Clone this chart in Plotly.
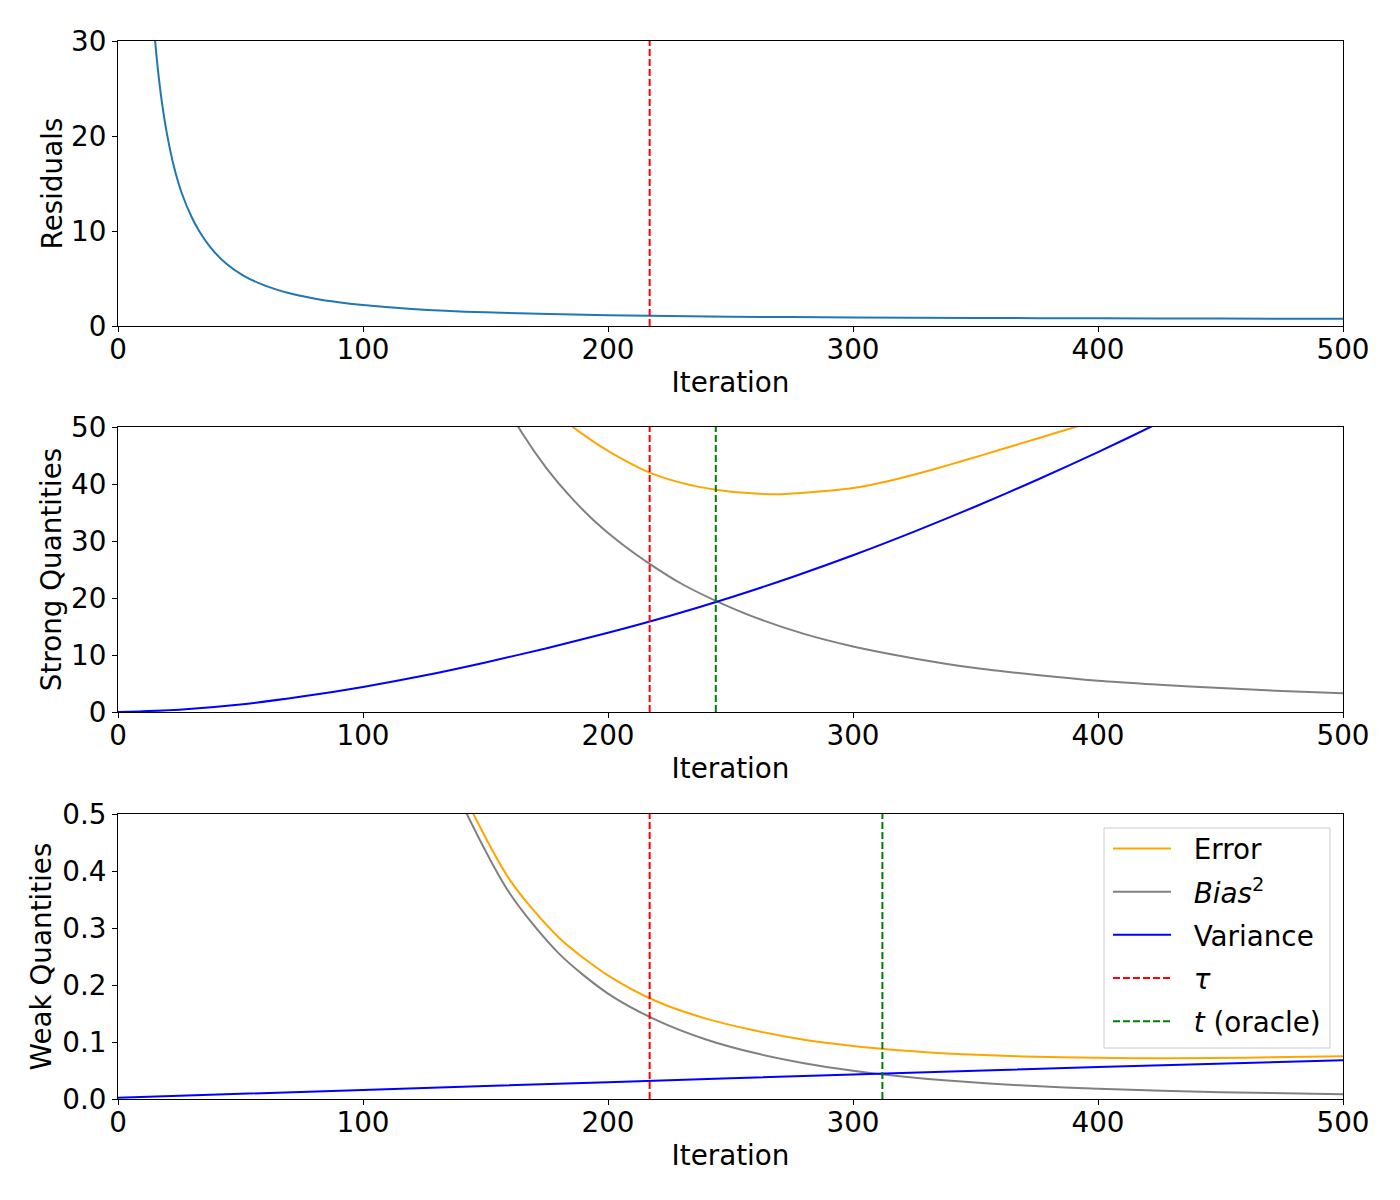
import plotly.graph_objects as go
from plotly.subplots import make_subplots

# ---------------- data ----------------
res_iter = [14, 16, 18, 20, 23, 26, 30, 33, 38, 44, 51, 60, 70, 80, 90, 100, 120, 150, 200, 250, 300, 350, 400, 450, 500]
res_val = [33.5, 27.7, 23.4, 20.2, 16.6, 14.0, 11.5, 10.05, 8.2, 6.6, 5.33, 4.25, 3.45, 2.9, 2.5, 2.21, 1.8, 1.44, 1.13, 0.98, 0.9, 0.85, 0.81, 0.78, 0.76]

strong_bias_iter = [155, 165, 175, 185, 195, 205, 217, 230, 244, 260, 280, 300, 325, 350, 375, 400, 425, 450, 475, 500]
strong_bias_val = [56.4, 48.9, 42.7, 37.6, 33.3, 29.7, 26.0, 22.5, 19.5, 16.6, 13.7, 11.5, 9.4, 7.7, 6.5, 5.5, 4.8, 4.2, 3.7, 3.3]

strong_var_iter = [0, 25, 50, 75, 100, 125, 150, 175, 200, 225, 250, 275, 300, 325, 350, 375, 400, 425, 450]
strong_var_val = [0.0, 0.4, 1.3, 2.7, 4.4, 6.4, 8.7, 11.2, 13.9, 16.85, 20.1, 23.65, 27.5, 31.65, 36.05, 40.7, 45.6, 50.75, 56.15]

strong_err_iter = [170, 175, 185, 197, 207, 217, 230, 244, 256, 269, 280, 290, 300, 310, 320, 333, 346, 360, 375, 391, 405]
strong_err_val = [55.2, 53.5, 50.2, 46.6, 44.1, 42.0, 40.2, 39.0, 38.45, 38.2, 38.45, 38.8, 39.3, 40.1, 41.1, 42.6, 44.2, 46.0, 47.95, 50.03, 51.85]

weak_bias_iter = [135, 140, 160, 180, 200, 220, 240, 260, 280, 300, 320, 340, 370, 400, 450, 500]
weak_bias_val = [0.57, 0.521, 0.360, 0.255, 0.185, 0.138, 0.1045, 0.0806, 0.0629, 0.0497, 0.0396, 0.0319, 0.0236, 0.0179, 0.0120, 0.0085]

weak_var_iter = [0, 100, 200, 300, 400, 500]
weak_var_val = [0.002, 0.016, 0.0295, 0.043, 0.056, 0.068]

weak_err_iter = [135, 140, 160, 180, 200, 220, 240, 260, 280, 300, 320, 340, 370, 400, 430, 460, 500]
weak_err_val = [0.60, 0.545, 0.384, 0.283, 0.217, 0.171, 0.141, 0.120, 0.104, 0.093, 0.085, 0.0795, 0.0745, 0.0722, 0.0715, 0.0725, 0.0752]

tau = 217
t_oracle_strong = 244
t_oracle_weak = 312

x_ticks = [0, 100, 200, 300, 400, 500]
y_ticks_res = [0, 10, 20, 30]
y_ticks_strong = [0, 10, 20, 30, 40, 50]
y_ticks_weak = [0.0, 0.1, 0.2, 0.3, 0.4, 0.5]

y_max = [30, 50, 0.5]

# ---------------- figure ----------------
FONT = "DejaVu Sans"
FS = 27.8
LW = 2
DASH = "7px,3px"
PAD = "\u00a0\u00a0"

fig = make_subplots(rows=3, cols=1)

line_shape = dict(shape="spline", smoothing=0.8)

# Panel 1
fig.add_trace(go.Scatter(x=res_iter, y=res_val, mode="lines",
                         line=dict(color="#1f77b4", width=LW, **line_shape),
                         showlegend=False), row=1, col=1)
fig.add_trace(go.Scatter(x=[tau, tau], y=[0, y_max[0]], mode="lines",
                         line=dict(color="red", width=LW, dash=DASH),
                         showlegend=False), row=1, col=1)

# Panel 2
fig.add_trace(go.Scatter(x=strong_err_iter, y=strong_err_val, mode="lines",
                         line=dict(color="orange", width=LW, **line_shape),
                         showlegend=False), row=2, col=1)
fig.add_trace(go.Scatter(x=strong_bias_iter, y=strong_bias_val, mode="lines",
                         line=dict(color="gray", width=LW, **line_shape),
                         showlegend=False), row=2, col=1)
fig.add_trace(go.Scatter(x=strong_var_iter, y=strong_var_val, mode="lines",
                         line=dict(color="blue", width=LW, **line_shape),
                         showlegend=False), row=2, col=1)
fig.add_trace(go.Scatter(x=[tau, tau], y=[0, y_max[1]], mode="lines",
                         line=dict(color="red", width=LW, dash=DASH),
                         showlegend=False), row=2, col=1)
fig.add_trace(go.Scatter(x=[t_oracle_strong, t_oracle_strong], y=[0, y_max[1]], mode="lines",
                         line=dict(color="green", width=LW, dash=DASH),
                         showlegend=False), row=2, col=1)

# Panel 3
fig.add_trace(go.Scatter(x=weak_err_iter, y=weak_err_val, mode="lines", name=PAD + "Error",
                         legendgroup="a",
                         line=dict(color="orange", width=LW, **line_shape)), row=3, col=1)
fig.add_trace(go.Scatter(x=weak_bias_iter, y=weak_bias_val, mode="lines",
                         name=PAD + "<i>Bias</i><sup>2</sup>",
                         legendgroup="b",
                         line=dict(color="gray", width=LW, **line_shape)), row=3, col=1)
fig.add_trace(go.Scatter(x=weak_var_iter, y=weak_var_val, mode="lines", name=PAD + "Variance",
                         legendgroup="c",
                         line=dict(color="blue", width=LW, **line_shape)), row=3, col=1)
fig.add_trace(go.Scatter(x=[tau, tau], y=[0, y_max[2]], mode="lines", name=PAD + "<i>τ</i>",
                         legendgroup="d",
                         line=dict(color="red", width=LW, dash=DASH)), row=3, col=1)
fig.add_trace(go.Scatter(x=[t_oracle_weak, t_oracle_weak], y=[0, y_max[2]], mode="lines",
                         name=PAD + "<i>t</i> (oracle)", legendgroup="e",
                         line=dict(color="green", width=LW, dash=DASH)), row=3, col=1)

axis_common = dict(showline=True, linecolor="black", linewidth=1, mirror=True,
                   ticks="outside", ticklen=5, tickwidth=1, tickcolor="black",
                   showgrid=False, zeroline=False,
                   tickfont=dict(family=FONT, size=FS, color="black"))

W, H = 1400, 1200
L, R, T, B = 118, 57, 41, 101
pw = W - L - R
ph = H - T - B
panels_px = [(41, 326), (427, 712), (814, 1099)]
domains = [[1 - (b - T) / ph, 1 - (t - T) / ph] for (t, b) in panels_px]

ytick_sets = [y_ticks_res, y_ticks_strong, y_ticks_weak]
ytitles = ["Residuals", "Strong Quantities", "Weak Quantities"]
yfmt = ["d", "d", ".1f"]
ystand = [0, 1, 2]

for i in range(3):
    xa = "xaxis" if i == 0 else f"xaxis{i+1}"
    ya = "yaxis" if i == 0 else f"yaxis{i+1}"
    fig.layout[xa].update(range=[0, 500], tickvals=x_ticks, domain=[0, 1],
                          ticklabelstandoff=-6,
                          title=dict(text="Iteration", font=dict(family=FONT, size=FS, color="black"),
                                     standoff=7),
                          **axis_common)
    fig.layout[ya].update(range=[0, y_max[i]], tickvals=ytick_sets[i], tickformat=yfmt[i],
                          domain=domains[i],
                          title=dict(text=ytitles[i], font=dict(family=FONT, size=FS, color="black"),
                                     standoff=ystand[i]),
                          **axis_common)

def px_x(p):
    return (p - L) / pw

def px_y(p):
    return 1 - (p - T) / ph

# legend frame (matplotlib style)
fig.add_shape(type="rect", xref="paper", yref="paper",
              x0=px_x(1104), x1=px_x(1330), y0=px_y(1048), y1=px_y(828),
              line=dict(color="#cccccc", width=1), fillcolor="rgba(255,255,255,0.8)",
              layer="above")

fig.update_layout(
    width=W, height=H,
    margin=dict(l=L, r=R, t=T, b=B, autoexpand=False),
    plot_bgcolor="white", paper_bgcolor="white",
    font=dict(family=FONT, size=FS, color="black"),
    showlegend=True,
    legend=dict(x=px_x(1108), y=px_y(824),
                xanchor="left", yanchor="top",
                bgcolor="rgba(0,0,0,0)", borderwidth=0,
                font=dict(family=FONT, size=FS, color="black"),
                traceorder="grouped", tracegroupgap=4, itemwidth=58),
)

fig.write_html("out.html")
